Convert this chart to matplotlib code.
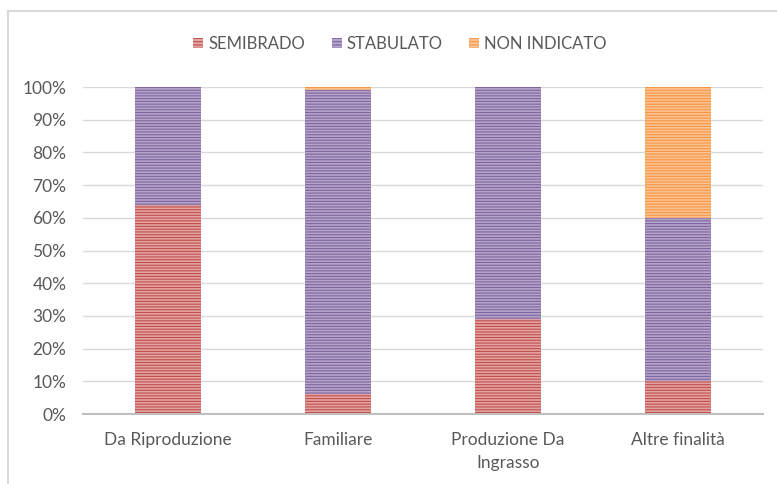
import matplotlib.pyplot as plt
import matplotlib.patches as mpatches
from matplotlib.lines import Line2D

categorie = ['Da Riproduzione', 'Familiare', 'Produzione Da\nIngrasso', 'Altre finalità']
semibrado = [64, 6, 29, 10]
stabulato = [36, 93, 71, 50]
non_indicato = [0, 1, 0, 40]

serie = [
    ('SEMIBRADO', semibrado, '#E4A3A1', '#C0504D'),
    ('STABULATO', stabulato, '#B3A5C8', '#8064A2'),
    ('NON INDICATO', non_indicato, '#FAC291', '#F79646'),
]

plt.rcParams['font.family'] = ['Lato', 'DejaVu Sans']
plt.rcParams['hatch.linewidth'] = 0.8

fig = plt.figure(figsize=(7.77, 4.84), dpi=100)
ax = fig.add_axes([0.1068, 0.1446, 0.875, 0.6756])

x = range(len(categorie))
base = [0] * len(categorie)
handles = []
for nome, valori, chiaro, scuro in serie:
    ax.bar(x, valori, width=0.39, bottom=base, color=chiaro, edgecolor=scuro,
           hatch='------', linewidth=0, zorder=3)
    base = [b + v for b, v in zip(base, valori)]
    handles.append(mpatches.Patch(facecolor=chiaro, edgecolor=scuro, hatch='-----',
                                  linewidth=0, label=nome))

ax.set_xlim(-0.5, 3.5)
ax.set_ylim(0, 100)
ax.set_yticks(range(0, 101, 10))
ax.set_yticklabels([f'{v}%' for v in range(0, 101, 10)])
ax.set_xticks(list(x))
ax.set_xticklabels(categorie, linespacing=1.55)
ax.tick_params(axis='both', length=0, labelsize=12.5, labelcolor='#595959')
ax.tick_params(axis='x', pad=13)
ax.tick_params(axis='y', pad=12)
ax.grid(axis='y', color='#D9D9D9', linewidth=1, zorder=0)
for lato in ['top', 'right', 'left']:
    ax.spines[lato].set_visible(False)
ax.spines['bottom'].set_color('#BFBFBF')
ax.spines['bottom'].set_linewidth(1.5)
ax.spines['bottom'].set_zorder(4)

fig.legend(handles=handles, loc='center', bbox_to_anchor=(0.515, 0.909), ncol=3,
           frameon=False, fontsize=12, labelcolor='#595959', handlelength=0.6,
           handleheight=0.6, handletextpad=0.3, columnspacing=1.6)

# cornice del grafico
fig.add_artist(Line2D([0.0103, 0.0103], [0, 0.977], color='#D9D9D9', linewidth=1.5))
fig.add_artist(Line2D([0.0103, 1], [0.977, 0.977], color='#D9D9D9', linewidth=1.5))

fig.savefig('out.png', dpi=100)
